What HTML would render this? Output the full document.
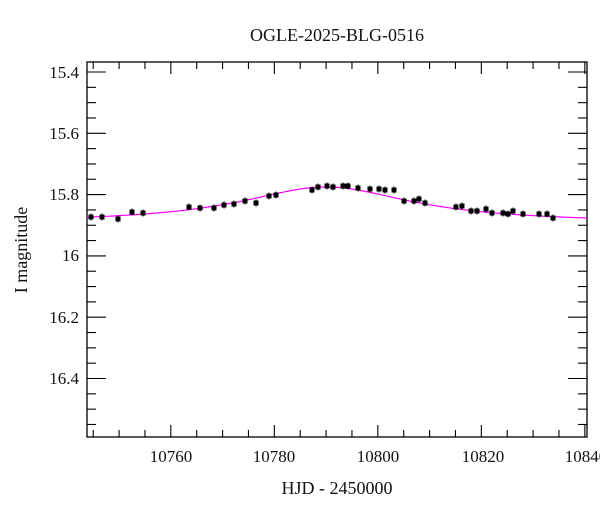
<!DOCTYPE html>
<html><head><meta charset="utf-8"><style>
body{margin:0;background:#fff;}
text{font-family:"Liberation Serif","DejaVu Serif",serif;fill:#111;}
</style></head><body>
<svg id="s" width="600" height="512" xmlns="http://www.w3.org/2000/svg">
<text x="337" y="41" font-size="18" text-anchor="middle">OGLE-2025-BLG-0516</text>
<rect x="87" y="62" width="500" height="375" fill="none" stroke="#000" stroke-width="1.3"/>
<g id="ticks" stroke="#000" stroke-width="1.1"></g>
<path id="curve" fill="none" stroke="#f0f" stroke-width="1.2"/>
<g id="pts" fill="#000" stroke="#000" stroke-width="1"></g>
<g font-size="17">
<text x="79" y="78" text-anchor="end">15.4</text>
<text x="79" y="139" text-anchor="end">15.6</text>
<text x="79" y="200" text-anchor="end">15.8</text>
<text x="79" y="261" text-anchor="end">16</text>
<text x="79" y="323" text-anchor="end">16.2</text>
<text x="79" y="384" text-anchor="end">16.4</text>
<text x="171" y="462" text-anchor="middle">10760</text>
<text x="274" y="462" text-anchor="middle">10780</text>
<text x="378" y="462" text-anchor="middle">10800</text>
<text x="483" y="462" text-anchor="middle">10820</text>
<text x="586" y="462" text-anchor="middle">10840</text>
</g>
<text x="337" y="494" font-size="18" text-anchor="middle">HJD - 2450000</text>
<text transform="translate(27,250) rotate(-90)" font-size="18" text-anchor="middle">I magnitude</text>
</svg>
<script>
var ns="http://www.w3.org/2000/svg",t=document.getElementById("ticks");
function L(x1,y1,x2,y2){var l=document.createElementNS(ns,"line");l.setAttribute("x1",x1);l.setAttribute("y1",y1);l.setAttribute("x2",x2);l.setAttribute("y2",y2);t.appendChild(l);}
for(var d=10745;d<=10840;d+=5){var x=87+(d-10743.8)*5.175;if(x<87||x>587)continue;var len=(d%20==0)?12:7;L(x,437,x,437-len);L(x,62,x,62+len);}
for(var m=15.4;m<=16.6;m+=0.05){var y=72+(m-15.4)/0.2*61.3;if(y<62||y>437)continue;var maj=Math.abs(Math.round(m*10)/10-m)<0.001&&Math.round(m*10)%2==0;var len=maj?19:9;L(87,y,87+len,y);L(587,y,587-len,y);}
var p="";for(var x=87;x<=587;x+=2){var y=223-36/(1+Math.pow((x-326)/105,2));p+=(x==87?"M":"L")+x+","+y.toFixed(1);}
document.getElementById("curve").setAttribute("d",p);
var pts=[[91,217],[102,217],[118,219],[132,212],[143,213],[189,207],[200,208],[214,208],[224,205],[234,204],[245,201],[256,203],[269,196],[276,195],[312,190],[318,187],[327,186],[333,187],[343,186],[348,186],[358,188],[370,189],[379,189],[385,190],[394,190],[404,201],[414,201],[419,199],[425,203],[456,207],[462,206],[471,211],[477,211],[486,209],[492,213],[503,213],[508,214],[513,211],[523,214],[539,214],[547,214],[553,218]];
var g=document.getElementById("pts");
pts.forEach(function(q){var r=document.createElementNS(ns,"rect");r.setAttribute("x",q[0]-2);r.setAttribute("y",q[1]-2);r.setAttribute("width",4);r.setAttribute("height",4);g.appendChild(r);
var l=document.createElementNS(ns,"line");l.setAttribute("x1",q[0]);l.setAttribute("x2",q[0]);l.setAttribute("y1",q[1]-3.5);l.setAttribute("y2",q[1]+3.5);g.appendChild(l);});
</script>
</body></html>
